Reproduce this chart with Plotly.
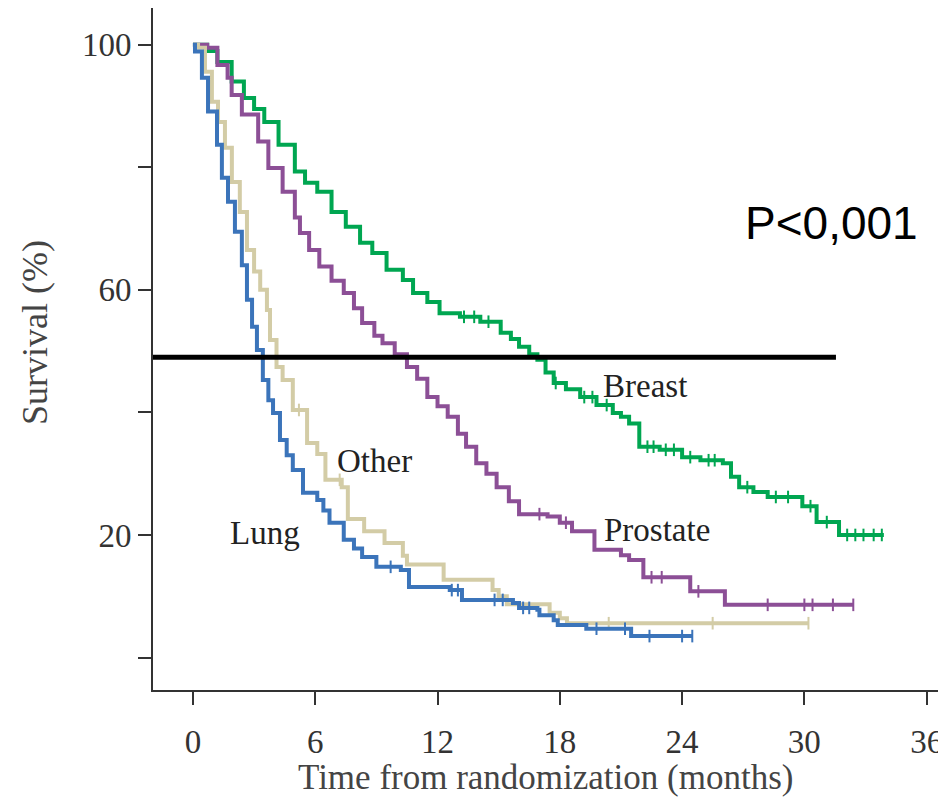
import plotly.graph_objects as go
import numpy as np

# ---- data ----
breast_t = [0, 0.3, 0.7, 1.2, 1.9, 2.5, 3.0, 3.5, 4.2, 5.0, 5.5, 6.1, 6.8, 7.5, 8.2, 8.8, 9.5, 10.3,
            10.8, 11.5, 12.1, 13.1, 14.1, 15.1, 15.6, 16.0, 16.5, 16.9, 17.3, 17.7, 18.3, 19.0, 19.8,
            20.6, 21.0, 21.4, 21.9, 22.9, 24.0, 24.9, 26.0, 26.4, 26.8, 27.5, 28.2, 29.9, 30.6, 31.7, 33.9]
breast_s = [100, 100, 99, 97.2, 94, 91.3, 89.5, 87.4, 83.7, 79.3, 77.5, 76, 72.7, 70.3, 67.7, 66, 63.3, 61.6,
            59.5, 58, 56.2, 55.6, 54.8, 53, 52, 50.7, 49.5, 48.6, 46.5, 44.8, 43.8, 42.5, 41.2,
            39.9, 39.3, 38.2, 34.4, 33.9, 32.7, 32.2, 31.7, 29.5, 27.8, 27, 26.2, 24.7, 22.1, 20, 20]
breast_cens = [13.3, 13.8, 14.5, 17.8, 19.2, 19.6, 20.3, 22.3, 22.6, 23.2, 23.6, 24.4, 25.3, 25.6, 27.2,
               28.6, 29.2, 30.3, 31.1, 32.1, 32.5, 32.9, 33.4, 33.8]

prostate_t = [0, 0.7, 1.2, 1.7, 1.9, 2.4, 3.2, 3.7, 4.4, 5.0, 5.25, 5.7, 6.2, 6.8, 7.4, 7.9, 8.3, 8.9, 9.3,
              9.9, 10.5, 11.0, 11.5, 12.0, 12.5, 13.0, 13.4, 13.9, 14.4, 14.9, 15.5, 16.0, 17.4, 18.0, 18.6,
              19.7, 21.0, 21.4, 22.1, 24.4, 26.1, 32.4]
prostate_s = [100, 99.5, 96.7, 94.6, 91.8, 88.6, 84.2, 79.9, 76, 71.8, 69.3, 66.5, 63.8, 61.5, 59.5, 57, 54.6,
              52.5, 51.3, 49.5, 47.4, 45.5, 42.5, 41, 39.3, 36.5, 34.4, 31.7, 30, 27.8, 25.5, 23.4, 23.0,
              22.0, 20.6, 17.6, 16.7, 15.9, 13.1, 10.8, 8.6, 8.6]
prostate_cens = [17.0, 18.3, 22.5, 23.0, 24.8, 28.2, 30.0, 30.4, 31.4, 32.4]

lung_t = [0, 0.1, 0.44, 0.74, 1.18, 1.42, 1.72, 2.06, 2.4, 2.65, 2.9, 3.14, 3.43, 3.7, 3.93, 4.27, 4.6, 4.9,
          5.4, 6.1, 6.4, 6.7, 7.4, 7.9, 8.3, 9.0, 10.2, 10.6, 12.6, 13.2, 15.7, 16.0, 16.9, 17.0, 17.7,
          17.9, 19.3, 21.5, 24.5]
lung_s = [100, 98.9, 94.6, 89.1, 83.7, 78.3, 74.4, 69.5, 64, 58.4, 54, 50.2, 45.3, 42, 39.9, 35.5, 33, 30.6,
          26.9, 25.7, 24, 22, 19.2, 17.8, 16.4, 14.8, 14.3, 11.5, 11.0, 9.4, 8.9, 8.1, 7.8, 6.9, 6.1,
          5.3, 4.7, 3.5, 3.5]
lung_cens = [9.7, 12.7, 13.0, 14.8, 15.2, 16.2, 16.5, 19.8, 21.2, 22.4, 24.0, 24.5]

other_t = [0, 0.25, 0.59, 0.93, 1.23, 1.57, 1.91, 2.3, 2.65, 3.0, 3.3, 3.63, 3.78, 4.1, 4.4, 4.9, 5.6, 6.1,
           6.5, 7.3, 7.6, 8.4, 9.4, 10.3, 10.5, 12.3, 14.7, 15.0, 15.4, 17.5, 18.0, 18.35, 30.2]
other_s = [100, 99.5, 95.6, 90.7, 87.4, 83.2, 77.6, 72.7, 66.5, 63, 60, 56.7, 51.8, 47.4, 45.3, 40.4, 35,
           33.2, 29, 27.8, 22.6, 20.6, 18.7, 16.6, 15.2, 12.7, 11.0, 10.0, 8.7, 7.3, 6.4, 5.6, 5.6]
other_cens = [5.2, 7.2, 20.4, 25.5, 30.2]

ref_line_x = [-1.96, 31.55]
ref_line_y = [49, 49]

series = [
    ("Breast", breast_t, breast_s, breast_cens, "#00A651"),
    ("Prostate", prostate_t, prostate_s, prostate_cens, "#8C4F96"),
    ("Other", other_t, other_s, other_cens, "#D3CCA6"),
    ("Lung", lung_t, lung_s, lung_cens, "#3B74BA"),
]

labels = [
    ("Breast", 22.17, 44.3),
    ("Prostate", 22.76, 20.8),
    ("Other", 8.93, 32.1),
    ("Lung", 3.53, 20.3),
]
p_text = ("P<0,001", 31.34, 70.9)

x_ticks = [0, 6, 12, 18, 24, 30, 36]
y_ticks = [0, 20, 40, 60, 80, 100]
y_tick_text = ["", "20", "", "60", "", "100"]

SERIF = "Liberation Serif, Times New Roman, serif"
SANS = "Liberation Sans, Arial, sans-serif"

fig = go.Figure()

for name, t, s, cens, col in series:
    fig.add_trace(go.Scatter(x=t, y=s, mode="lines", line=dict(color=col, width=4, shape="hv"),
                             name=name, showlegend=False, hoverinfo="skip"))
    tt = np.array(t)
    ss = np.array(s)
    cy = [ss[np.searchsorted(tt, c, side="right") - 1] for c in cens]
    fig.add_trace(go.Scatter(x=cens, y=cy, mode="markers",
                             marker=dict(symbol="line-ns-open", size=9, color=col,
                                         line=dict(color=col, width=2)),
                             showlegend=False, hoverinfo="skip"))

fig.add_trace(go.Scatter(x=ref_line_x, y=ref_line_y, mode="lines",
                         line=dict(color="black", width=5), showlegend=False, hoverinfo="skip"))

for txt, x, y in labels:
    fig.add_annotation(x=x, y=y, xref="x", yref="y", text=txt, showarrow=False,
                       xanchor="center", yanchor="middle",
                       font=dict(family=SERIF, size=33, color="#222222"))
fig.add_annotation(x=p_text[1], y=p_text[2], xref="x", yref="y", text=p_text[0], showarrow=False,
                   xanchor="center", yanchor="middle",
                   font=dict(family=SANS, size=46, color="black"))

fig.add_annotation(x=-0.149, y=0.525, xref="paper", yref="paper", text="Survival (%)", textangle=-90,
                   xanchor="center", yanchor="middle",
                   showarrow=False, font=dict(family=SERIF, size=36, color="#444444"))
fig.add_annotation(x=0.495, y=-0.129, xref="paper", yref="paper", text="Time from randomization (months)",
                   xanchor="center", yanchor="middle",
                   showarrow=False, font=dict(family=SERIF, size=35, color="#444444"))

fig.update_layout(
    width=946, height=792,
    margin=dict(l=145, r=9, t=0, b=110),
    plot_bgcolor="white", paper_bgcolor="white",
)
fig.update_xaxes(range=[-1.96, 36.9], tickvals=x_ticks, ticks="outside", ticklen=13, tickwidth=2,
                 tickcolor="#333333", showline=True, linecolor="#333333", linewidth=2, showgrid=False,
                 zeroline=False, ticklabelstandoff=8,
                 tickfont=dict(family=SERIF, size=33, color="#333333"))
fig.update_yaxes(range=[-5.3, 106.0], tickvals=y_ticks, ticktext=y_tick_text, ticks="outside", ticklen=13,
                 tickwidth=2, tickcolor="#333333", showline=True, linecolor="#333333", linewidth=2,
                 showgrid=False, zeroline=False,
                 tickfont=dict(family=SERIF, size=33, color="#333333"))

fig.write_html("out.html")
